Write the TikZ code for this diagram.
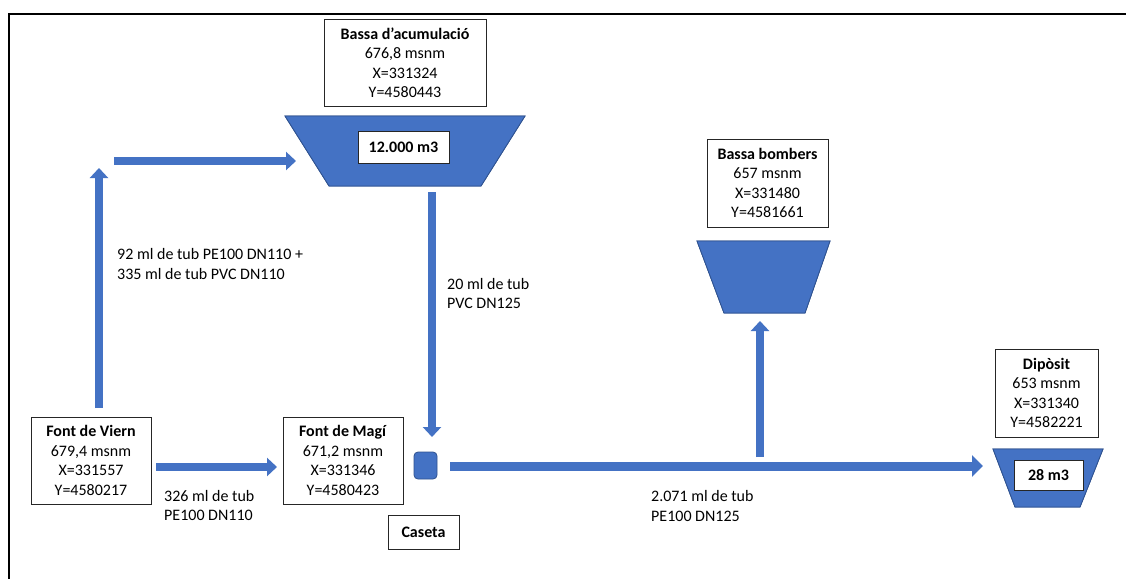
\documentclass[tikz,border=0pt]{standalone}
\usepackage{fontspec}
\setmainfont{Carlito}
\usetikzlibrary{arrows.meta}
\definecolor{obl}{HTML}{4472C4}
\definecolor{obd}{HTML}{2F528F}
\begin{document}
\begin{tikzpicture}[x=1pt,y=-1pt,
  every node/.style={font=\fontsize{16}{19.5}\selectfont},
  infobox/.style={draw=black!85, line width=0.9pt, fill=white, align=center, inner sep=0pt},
  pipe/.style={draw=obl, line width=8pt, -{Triangle[length=10pt,width=18pt]}},
  bigpipe/.style={draw=obl, line width=9pt, -{Triangle[length=11pt,width=21pt]}},
  tank/.style={fill=obl, draw=obd, line width=0.8pt},
  lbl/.style={align=left, anchor=west, inner sep=0pt}]
\useasboundingbox (0,0) rectangle (1126,578);
\fill[white] (0,0) rectangle (1126,578);
% frame
\draw[line width=2pt] (9,590) -- (9,14) -- (1140,14);

% tanks
\fill[tank] (285,116) -- (525,116) -- (481,186) -- (329,186) -- cycle;
\fill[tank] (697,241) -- (830,241) -- (805,313) -- (724,313) -- cycle;
\fill[tank] (993,449) -- (1103,449) -- (1080,507) -- (1015,507) -- cycle;
\draw[tank] (285,116) -- (525,116) -- (481,186) -- (329,186) -- cycle;
\draw[tank] (697,241) -- (830,241) -- (805,313) -- (724,313) -- cycle;
\draw[tank] (993,449) -- (1103,449) -- (1080,507) -- (1015,507) -- cycle;

% info boxes
\node[infobox, minimum width=162pt, minimum height=87pt] (acum) at (405,62.5)
  {\textbf{Bassa d’acumulació}\\676,8 msnm\\X=331324\\Y=4580443};
\node[infobox, minimum width=121pt, minimum height=88pt] (bomb) at (767.5,183)
  {\textbf{Bassa bombers}\\657 msnm\\X=331480\\Y=4581661};
\node[infobox, minimum width=103pt, minimum height=88pt] (dipo) at (1046.5,393)
  {\textbf{Dipòsit}\\653 msnm\\X=331340\\Y=4582221};
\node[infobox, minimum width=120pt, minimum height=87pt] (viern) at (91,460.5)
  {\textbf{Font de Viern}\\679,4 msnm\\X=331557\\Y=4580217};
\node[infobox, minimum width=120pt, minimum height=87pt] (magi) at (343,460.5)
  {\textbf{Font de Magí}\\671,2 msnm\\X=331346\\Y=4580423};
\node[infobox, minimum width=71pt, minimum height=34pt] (caseta) at (423.5,532)
  {\textbf{Caseta}};
\node[infobox, minimum width=91pt, minimum height=32pt] (vol1) at (403.5,147)
  {\textbf{12.000 m3}};
\node[infobox, minimum width=69pt, minimum height=30pt] (vol2) at (1048.5,475)
  {\textbf{28 m3}};

% junction
\node[tank, draw, rounded corners=4pt, minimum width=23pt, minimum height=27pt, inner sep=0pt] (junc) at (425.5,465.5) {};

% arrow end points
\coordinate (up1s) at (99,408);
\coordinate (up1e) at (99,168);
\coordinate (top1s) at (114,161);
\coordinate (top1e) at (296,161);
\coordinate (vm1s) at (156,467);
\coordinate (vm1e) at (277,467);
\coordinate (dn1s) at (432,192);
\coordinate (dn1e) at (432,437);
\coordinate (cd1s) at (450,466);
\coordinate (cd1e) at (983,466);
\coordinate (ub1s) at (760,457);
\coordinate (ub1e) at (760,321);

\draw[pipe] (up1s) -- (up1e);
\draw[pipe] (top1s) -- (top1e);
\draw[pipe] (vm1s) -- (vm1e);
\draw[pipe] (dn1s) -- (dn1e);
\draw[bigpipe] (cd1s) -- (cd1e);
\draw[pipe] (ub1s) -- (ub1e);

% labels
\node[lbl] (l1) at (117,264) {92 ml de tub PE100 DN110 +\\335 ml de tub PVC DN110};
\node[lbl] (l2) at (447,293.5) {20 ml de tub\\PVC DN125};
\node[lbl] (l3) at (164,505.5) {326 ml de tub\\PE100 DN110};
\node[lbl] (l4) at (651,506) {2.071 ml de tub\\PE100 DN125};
\end{tikzpicture}
\end{document}
